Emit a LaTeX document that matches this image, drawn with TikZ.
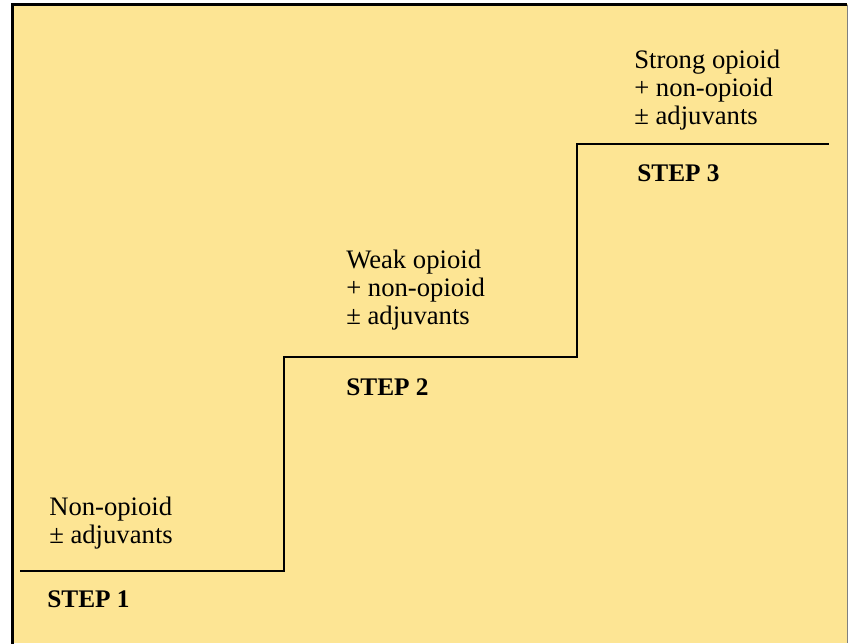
\documentclass[tikz,border=0pt]{standalone}
\usepackage{fontspec}
\setmainfont{Liberation Serif}
\usepackage{tikz}

\definecolor{ladderbg}{RGB}{253,229,148}

\tikzset{
  druglabel/.style={anchor=north west, inner sep=0pt, align=left,
    font=\fontsize{20}{21}\selectfont},
  steplabel/.style={anchor=base west, inner sep=0pt,
    font=\fontsize{19}{21}\selectfont\bfseries},
  stair/.style={line width=1.5pt}
}

\begin{document}
\begin{tikzpicture}[x=0.75pt,y=-0.75pt]
  \useasboundingbox (0,0) rectangle (848,643);
  % background and frame
  \fill[ladderbg] (12,4) rectangle (848,643);
  \draw[line width=2.25pt] (12.5,650) -- (12.5,4.5) -- (847,4.5);
  \draw[gray, line width=0.75pt] (847,4.5) -- (847,643);

  % the ladder
  \coordinate (a) at (20,571);
  \coordinate (b) at (284,571);
  \coordinate (c) at (284,357);
  \coordinate (d) at (577,357);
  \coordinate (e) at (577,144);
  \coordinate (f) at (829,144);
  \draw[stair] (a) -- (b) -- (c) -- (d) -- (e) -- (f);

  % drugs on each step
  \node (1) [druglabel] at (49,497) {Non-opioid\\± adjuvants};
  \node (2) [druglabel] at (346,250) {Weak opioid\\+ non-opioid\\± adjuvants};
  \node (3) [druglabel] at (634,50) {Strong opioid\\+ non-opioid\\± adjuvants};

  % step names
  \node (s1) [steplabel] at (47,607) {STEP 1};
  \node (s2) [steplabel] at (346,395) {STEP 2};
  \node (s3) [steplabel] at (637,181) {STEP 3};
\end{tikzpicture}
\end{document}
